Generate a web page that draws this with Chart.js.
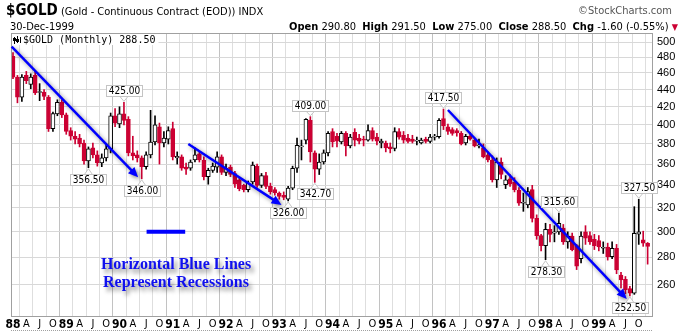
<!DOCTYPE html>
<html><head><meta charset="utf-8">
<script src="https://cdn.jsdelivr.net/npm/chart.js@4.4.1/dist/chart.umd.min.js"></script>
<style>
html,body{margin:0;padding:0;background:#fff;}
#wrap{position:relative;width:682px;height:332px;overflow:hidden;background:#fff;}
#c{position:absolute;left:0;top:0;}
.t{position:absolute;white-space:nowrap;font-family:'Liberation Sans Narrow','Arial Narrow','DejaVu Sans Condensed','Liberation Sans',sans-serif;color:#000;}
.note{position:absolute;white-space:nowrap;font-family:'Liberation Serif','Times New Roman',serif;font-weight:bold;color:#1010ee;font-size:16px;line-height:18px;text-align:center;text-shadow:3px 4px 4px rgba(0,0,0,0.45);}
</style></head><body>
<div id="wrap">
<canvas id="c" width="682" height="332"></canvas>
<div class="t" style="left:6px;top:1px;font-size:11px;"><b style="font-size:15px;">$GOLD</b> (Gold - Continuous Contract (EOD)) INDX</div>
<div class="t" style="right:10px;top:4px;font-size:11px;color:#555;">©StockCharts.com</div>
<div class="t" style="left:10px;top:20px;font-size:11px;">30-Dec-1999</div>
<div class="t" style="right:4px;top:20px;font-size:11px;"><b>Open</b> 290.80&nbsp; <b>High</b> 291.50&nbsp; <b>Low</b> 275.00&nbsp; <b>Close</b> 288.50&nbsp; <b>Chg</b> -1.60 (-0.55%) <span style="color:#cc0033;font-size:9px;">▼</span></div>
<div class="note" style="left:96px;top:255px;width:160px;">Horizontal Blue Lines<br>Represent Recessions</div>
</div>
<script>
// ---------- DATA ----------
const categories = [];
for (let yr = 1988; yr <= 1999; yr++) for (let mo = 1; mo <= 12; mo++) categories.push(yr + '-' + String(mo).padStart(2, '0'));

const opens = [
 481,455,431,457,446,457,436.5,437,431,396,412,425,
 411,394,388,386,381,363,376,369,361,366,375,410,
 401,412,406,371,369,366,357.5,369,382,398,381,385,
 396,366,367,357,356,364,370,364,348,354,357,367,
 352,357,351,345,340,336,343,358,340,349,339,336,
 333,331,327.5,337.5,356,377,384,405,371,355,362,371,
 393,388,382,391,378,392,386,385,384,394,387,381,
 381,377,375.5,392.8,389,386,385,383,381,385,382.5,387,
 387.5,407,398,395,394,391,381,388,384,378,376,369,
 364,345,362,340.5,346,343,335.5,324,322.5,336,311,297,
 289,302,299,300,303,292,296.5,289,279,300,297,294,
 293,287,288,280.5,287,267,264,257.5,254.3,298.2,293.5,290.8];
const highs = [
 486,457,458,462,459,462,447,440,433,414,428,428,
 413,397,393,390,384,377,381,373,370,379,413,418,
 420,425,409,388,373,368,372,416,410,402,393,398,
 403,372,369,361,364,376,372,367,356,361,372,369,
 360,359,353,347,341,344,362,360,351,352,342,338,
 334,334,339,358,386,384,407,409,373,370,374,393,
 396,391,393,393,390,396,390,388,400,397,391,385,
 383,381,397,396,393,390,389,387,386,387,390,390,
 407,417.5,401,397,396,393,390,392,386,385,380,372,
 368,366,366,349,350,347,338,333,338,340,314,298,
 307,306,305,315.6,306,300,299,290,300,305,300,298,
 297,292,291,292,290,269,266,259,321,327.5,300.5,291.5];
const lows = [
 453,424.5,426,447,441,434,427,428,393,393,410,408,
 390,384,380,377,360,356.5,366,358,357.5,363,371,398,
 397,400,368,364,362,346,355,366,379,360,377,380,
 364,360,354,350,354,362,362,345,341,352,352,350,
 349,348,338,335,334,334,341,338,338,337,332,331,
 327.5,327,326,336,352,364,380,362,342.7,350,360,368,
 377,377,380,368,376,378,380,378,383,383,379,376,
 372,371,373,385,381,381,381,379,380,381,381,384,
 386,395,390,389,388,379,379,384,377,376,366,362,
 343,338,346,337,339,334,322,317,320,308,294,285,
 278.3,292,292,298,290,287,285,271,276,290,290,286,
 285,283,278,279,268,258,254,252.5,253.5,290,288.5,275];
const closes = [
 455,431,455,450.5,455,436,437,432,396,412.5,425,411,
 393,388,385,380,363,375,369,361,366,375,410,402,
 412,405,371,368,366,357.5,369,382,400,381,386,394,
 367,367.5,356,355,362,369,364,348,354,358,367,352,
 356,350,341,337,336,342,359,340,349,339,334,333,
 330,329,337.5,356,378.5,378,406,372,355,362,371,391,
 382,383,391,378,387,384,383,384,394,385,383,383,
 376,375,392.8,387,384,382.5,382.5,383.5,384,382.5,387,387.5,
 405,399,393,391,391.5,380,388,385,378,379,367,364,
 345,362,350,345,341,336,324,324.5,334.3,311,297,289,
 302,298,300,307,292,296.5,286,273.5,296.5,295,292,289,
 288,287.5,280.5,287,270.7,263.5,256.5,254.3,298.8,300,291,288.5];

const yTicks = [260,280,300,320,340,360,380,400,420,440,460,480,500];
const quarterLetters = ['', 'A', 'J', 'O'];
const lastValueText = '288.50';

// annotations (in data units: month index / price)
const markedHighs = [25, 67, 97, 123, 141];
const markedLows = [17, 29, 62, 68, 120, 139];
const trendLines = [
  {from: [-0.3, 493.7], to: [28.2, 347.5]},
  {from: [39.5, 380], to: [60.5, 322.5]},
  {from: [98.0, 416.4], to: [138.3, 250.4]}
];
const recessions = [{from: 30.1, to: 38.8, level: 300}];

// ---------- CHART ----------
const RED = '#cc0033';
const NARROW = "'Liberation Sans Narrow','Arial Narrow','DejaVu Sans Condensed','Liberation Sans',sans-serif";
const up = i => closes[i] >= opens[i];

const annot = {
  id: 'annot',
  afterDatasetsDraw(chart) {
    const {ctx, chartArea: a, scales: {x, y}} = chart;
    ctx.save();
    ctx.strokeStyle = '#a0a0a0'; ctx.lineWidth = 1;
    ctx.strokeRect(Math.round(a.left) + 0.5, Math.round(a.top) + 0.5, Math.round(a.right - a.left) - 1, Math.round(a.bottom - a.top));
    ctx.setLineDash([1, 1]);
    ctx.beginPath(); ctx.moveTo(a.left, 330.5); ctx.lineTo(a.right, 330.5); ctx.stroke();
    ctx.setLineDash([]);

    recessions.forEach(r => {
      ctx.save();
      ctx.strokeStyle = '#0000ff'; ctx.lineWidth = 4;
      const py = y.getPixelForValue(r.level);
      ctx.beginPath(); ctx.moveTo(x.getPixelForValue(r.from), py); ctx.lineTo(x.getPixelForValue(r.to), py); ctx.stroke();
      ctx.restore();
    });

    trendLines.forEach(t => {
      const x1 = x.getPixelForValue(t.from[0]), y1 = y.getPixelForValue(t.from[1]);
      const x2 = x.getPixelForValue(t.to[0]), y2 = y.getPixelForValue(t.to[1]);
      const ang = Math.atan2(y2 - y1, x2 - x1), L = 10, W = 4.5;
      ctx.save();
      ctx.shadowColor = 'rgba(0,0,0,0.45)'; ctx.shadowBlur = 4; ctx.shadowOffsetX = 2; ctx.shadowOffsetY = 2;
      ctx.strokeStyle = '#0000ff'; ctx.fillStyle = '#0000ff'; ctx.lineWidth = 2.5;
      ctx.beginPath(); ctx.moveTo(x1, y1);
      ctx.lineTo(x2 - L * 0.7 * Math.cos(ang), y2 - L * 0.7 * Math.sin(ang)); ctx.stroke();
      ctx.beginPath(); ctx.moveTo(x2, y2);
      ctx.lineTo(x2 - L * Math.cos(ang) + W * Math.sin(ang), y2 - L * Math.sin(ang) - W * Math.cos(ang));
      ctx.lineTo(x2 - L * Math.cos(ang) - W * Math.sin(ang), y2 - L * Math.sin(ang) + W * Math.cos(ang));
      ctx.closePath(); ctx.fill();
      ctx.restore();
    });

    const drawLabel = (i, val, above) => {
      const text = val.toFixed(2);
      ctx.font = '10px ' + NARROW;
      const w = Math.round(ctx.measureText(text).width) + 5, h = 11, gap = 6;
      const px = x.getPixelForValue(i), py = y.getPixelForValue(val);
      const bx = Math.round(px - w / 2) + 0.5;
      const by = above ? Math.round(py - gap - h) + 0.5 : Math.round(py + gap) + 0.5;
      ctx.fillStyle = '#fff'; ctx.strokeStyle = '#c4c4c4'; ctx.lineWidth = 1;
      ctx.beginPath();
      if (above) { ctx.moveTo(px - 4, by + h); ctx.lineTo(px, py - 1); ctx.lineTo(px + 4, by + h); }
      else { ctx.moveTo(px - 4, by); ctx.lineTo(px, py + 1); ctx.lineTo(px + 4, by); }
      ctx.closePath(); ctx.fill(); ctx.stroke();
      ctx.fillRect(bx, by, w, h); ctx.strokeRect(bx, by, w, h);
      ctx.fillStyle = '#000'; ctx.textAlign = 'center'; ctx.textBaseline = 'middle';
      ctx.fillText(text, bx + w / 2, by + h / 2 + 0.5);
    };
    markedHighs.forEach(i => drawLabel(i, highs[i], true));
    markedLows.forEach(i => drawLabel(i, lows[i], false));

    ctx.font = '10px ' + "'DejaVu Sans Mono','Liberation Mono',monospace";
    const lt = '$GOLD (Monthly) ' + lastValueText;
    const lw = ctx.measureText(lt).width;
    ctx.fillStyle = '#fff';
    ctx.fillRect(a.left + 1, a.top + 1, lw + 14, 11);
    ctx.fillStyle = '#000';
    ctx.fillRect(a.left + 3, a.top + 4, 1, 7); ctx.fillRect(a.left + 2, a.top + 5, 3, 3);
    ctx.fillRect(a.left + 6, a.top + 3, 1, 7); ctx.fillRect(a.left + 5, a.top + 6, 3, 3);
    ctx.fillRect(a.left + 9, a.top + 4, 1, 6);
    ctx.textAlign = 'left'; ctx.textBaseline = 'middle';
    ctx.fillText(lt, a.left + 12, a.top + 7);
    ctx.restore();
  }
};

const idx = categories.map((_, i) => i);
new Chart(document.getElementById('c'), {
  type: 'bar',
  data: {
    labels: categories,
    datasets: [
      {
        label: 'range',
        data: idx.map(i => ({x: i, y: [lows[i], highs[i]]})),
        backgroundColor: idx.map(i => up(i) ? '#000' : RED),
        barThickness: 1, grouped: false, order: 2, borderWidth: 0
      },
      {
        label: 'body',
        data: idx.map(i => ({x: i, y: [Math.min(opens[i], closes[i]), Math.max(opens[i], closes[i])]})),
        backgroundColor: idx.map(i => up(i) ? '#fff' : RED),
        borderColor: idx.map(i => up(i) ? '#000' : RED),
        borderWidth: 1, borderSkipped: false, minBarLength: 1,
        barThickness: 4, grouped: false, order: 1
      }
    ]
  },
  options: {
    responsive: false, animation: false, devicePixelRatio: 1,
    layout: {padding: {left: 11, top: 33, right: 0, bottom: 0}},
    plugins: {legend: {display: false}, tooltip: {enabled: false}},
    scales: {
      x: {
        type: 'linear', min: -0.4507, max: 144.21, offset: false,
        afterFit: s => { s.height = 16; },
        afterBuildTicks: s => { const t = []; for (let m = 0; m < categories.length; m += 3) t.push({value: m}); s.ticks = t; },
        ticks: {
          autoSkip: false, maxRotation: 0, padding: 2, color: '#000',
          callback: v => v % 12 === 0 ? categories[v].slice(2, 4) : quarterLetters[(v % 12) / 3],
          font: c => (c.tick && c.tick.value % 12 === 0) ? {family: NARROW, size: 12, weight: 'bold'} : {family: NARROW, size: 11}
        },
        grid: {drawTicks: false, color: c => (c.tick && c.tick.value % 12 === 0) ? '#c2c2c2' : '#dedede'},
        border: {display: false}
      },
      y: {
        type: 'logarithmic', position: 'right', min: 239.18, max: 512.26,
        afterFit: s => { s.width = 29; },
        afterBuildTicks: s => { s.ticks = yTicks.map(v => ({value: v})); },
        ticks: {autoSkip: false, padding: 4, color: '#000', font: {family: "'Liberation Sans',Arial,sans-serif", size: 11}, callback: v => String(v)},
        grid: {drawTicks: false, color: '#d8d8d8'},
        border: {display: false}
      }
    }
  },
  plugins: [annot]
});
</script>
</body></html>
